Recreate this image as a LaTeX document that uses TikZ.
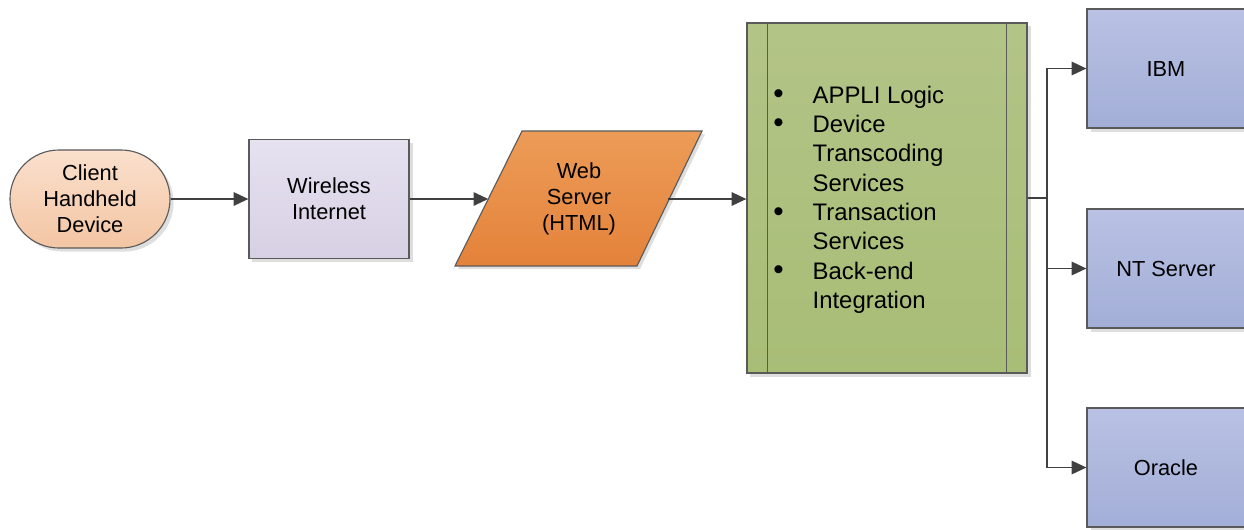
\documentclass[tikz,border=0pt]{standalone}
\usepackage{fontspec}
\setmainfont{Liberation Sans}
\usetikzlibrary{arrows.meta,shadows}
\definecolor{bordergray}{HTML}{5A5A5A}
\definecolor{linegray}{HTML}{404040}
\definecolor{peachT}{HTML}{FAE0CD}
\definecolor{peachB}{HTML}{F3C5A3}
\definecolor{lavT}{HTML}{E6E2F0}
\definecolor{lavB}{HTML}{D7D0E4}
\definecolor{orangeT}{HTML}{EC9C58}
\definecolor{orangeB}{HTML}{E4823A}
\definecolor{greenT}{HTML}{B3C487}
\definecolor{greenB}{HTML}{A8BD76}
\definecolor{blueT}{HTML}{B9C2E3}
\definecolor{blueB}{HTML}{A3AED8}
\newcommand\mainfnt{\fontsize{15.5}{18.5}\selectfont}
\newcommand\listfnt{\fontsize{17}{20.9}\selectfont}
\newcommand\bigbul{{\fontsize{21}{20.9}\selectfont\raisebox{-0.3pt}{\textbullet}}}
\begin{document}
\begin{tikzpicture}[x=0.025cm,y=-0.025cm,
  box/.style={draw=bordergray, line width=0.8pt, align=center, font=\mainfnt, inner sep=0pt,
    drop shadow={shadow xshift=2.5pt, shadow yshift=-2.5pt, fill=black!13, opacity=1}},
  arr/.style={-{Triangle[length=10.5pt,width=9.5pt]}, line width=1.4pt, draw=linegray}]
\useasboundingbox (0,0) rectangle (1244,529);

\node[box, rounded corners=1.225cm, minimum width=4cm, minimum height=2.45cm,
  top color=peachT, bottom color=peachB] (client) at (90,199) {Client\\Handheld\\Device};

\node[box, minimum width=4cm, minimum height=2.975cm,
  top color=lavT, bottom color=lavB] (wireless) at (329,199) {Wireless\\Internet};

% web server parallelogram
\fill[black!13] (525,134) -- (705,134) -- (640,269) -- (458,269) -- cycle;
\path[draw=bordergray, line width=0.8pt, top color=orangeT, bottom color=orangeB]
  (522,131) -- (702,131) -- (637,266) -- (455,266) -- cycle;
\node[align=center, font=\mainfnt, inner sep=0pt] (web) at (579,199) {Web\\Server\\(HTML)};
\coordinate (webL) at (488.3,199);
\coordinate (webR) at (668.3,199);

\node[box, minimum width=7cm, minimum height=8.75cm,
  top color=greenT, bottom color=greenB] (green) at (887,198) {};
\draw[bordergray, line width=0.8pt] ([xshift=0.525cm]green.north west) -- ([xshift=0.525cm]green.south west);
\draw[bordergray, line width=0.8pt] ([xshift=-0.525cm]green.north east) -- ([xshift=-0.525cm]green.south east);
\node[anchor=west, inner sep=0pt, font=\listfnt] (list) at (773,200) {%
  \begin{tabular}{@{}p{28pt}@{}l@{}}
  \bigbul & APPLI Logic\\
  \bigbul & Device\\
   & Transcoding\\
   & Services\\
  \bigbul & Transaction\\
   & Services\\
  \bigbul & Back-end\\
   & Integration
  \end{tabular}};

\node[box, minimum width=3.95cm, minimum height=2.975cm,
  top color=blueT, bottom color=blueB] (ibm) at (1166,68.5) {IBM};
\node[box, minimum width=3.95cm, minimum height=2.975cm,
  top color=blueT, bottom color=blueB] (nt) at (1166,268.5) {NT Server};
\node[box, minimum width=3.95cm, minimum height=2.975cm,
  top color=blueT, bottom color=blueB] (oracle) at (1166,467.5) {Oracle};

\draw[arr] (client.east) -- (client.east -| wireless.west);
\draw[arr] (wireless.east) -- (wireless.east -| webL);
\draw[arr] (webR) -- (webR -| green.west);
\coordinate (bus) at (1047,198);
\draw[arr] (green.east) -- (bus) |- (ibm.west);
\draw[arr] (green.east) -- (bus) |- (nt.west);
\draw[arr] (green.east) -- (bus) |- (oracle.west);
\end{tikzpicture}
\end{document}
